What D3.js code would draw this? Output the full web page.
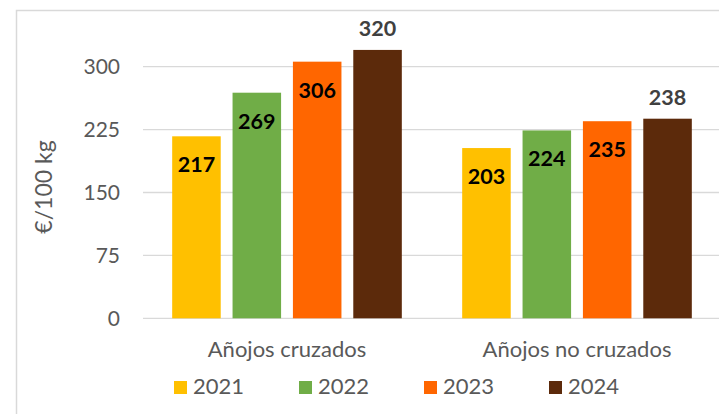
<!DOCTYPE html>
<html>
<head>
<meta charset="utf-8">
<script src="https://cdn.jsdelivr.net/npm/d3@7"></script>
<style>
  html, body { margin: 0; padding: 0; background: #fff; }
  svg { display: block; }
  text { font-family: Lato, "Open Sans", sans-serif; }
</style>
</head>
<body>
<svg id="chart" width="719" height="414"></svg>
<script>
const categories = ["Añojos cruzados", "Añojos no cruzados"];
const years = ["2021", "2022", "2023", "2024"];
const values2021 = [217, 203];
const values2022 = [269, 224];
const values2023 = [306, 235];
const values2024 = [320, 238];
const yTicks = [0, 75, 150, 225, 300];
const yTitle = "€/100 kg";

const seriesValues = [values2021, values2022, values2023, values2024];
const colors = ["#FFC000", "#70AD47", "#FF6600", "#5C2A0B"];
const labelOutside = [false, false, false, true];

const svg = d3.select("#chart");

// outer chart border (cropped on right/bottom)
svg.append("rect")
  .attr("x", 16.5).attr("y", 10.5)
  .attr("width", 800).attr("height", 500)
  .attr("fill", "none").attr("stroke", "#d9d9d9").attr("stroke-width", 1.5);

const y = d3.scaleLinear().domain([0, 300]).range([318.3, 66.7]);
const x0 = d3.scaleBand().domain(categories).range([142, 722]).paddingInner(0).paddingOuter(0);
const x1 = d3.scaleBand().domain(years).range([0, x0.bandwidth()]).paddingInner(0.196).paddingOuter(0.5);

// gridlines
const gAxis = svg.append("g");
gAxis.selectAll("line.grid").data(yTicks).join("line")
  .attr("class", "grid")
  .attr("x1", 143).attr("x2", 725)
  .attr("y1", d => y(d)).attr("y2", d => y(d))
  .attr("stroke", "#d9d9d9").attr("stroke-width", 1.3);

// y tick labels
gAxis.selectAll("text.tick").data(yTicks).join("text")
  .attr("class", "tick")
  .attr("x", 120).attr("y", d => y(d))
  .attr("dy", "0.36em")
  .attr("text-anchor", "end")
  .attr("font-size", 21).attr("fill", "#595959")
  .text(d => d);

// y title
svg.append("text")
  .attr("transform", "translate(52,187) rotate(-90)")
  .attr("text-anchor", "middle")
  .attr("font-size", 23).attr("fill", "#595959")
  .text(yTitle);

// bars
const data = [];
categories.forEach((c, ci) => {
  years.forEach((yr, si) => {
    data.push({ cat: c, year: yr, si: si, value: seriesValues[si][ci] });
  });
});

svg.append("g").selectAll("rect").data(data).join("rect")
  .attr("x", d => x0(d.cat) + x1(d.year))
  .attr("y", d => y(d.value))
  .attr("width", x1.bandwidth())
  .attr("height", d => y(0) - y(d.value))
  .attr("fill", d => colors[d.si]);

// data labels
svg.append("g").selectAll("text").data(data).join("text")
  .attr("x", d => x0(d.cat) + x1(d.year) + x1.bandwidth() / 2)
  .attr("y", d => labelOutside[d.si] ? y(d.value) - 14 : y(d.value) + 36)
  .attr("text-anchor", "middle")
  .attr("font-size", 21.5).attr("font-weight", "bold")
  .attr("fill", d => labelOutside[d.si] ? "#404040" : "#000000")
  .text(d => d.value);

// category labels
svg.append("g").selectAll("text").data(categories).join("text")
  .attr("x", d => x0(d) + x0.bandwidth() / 2)
  .attr("y", 356.5)
  .attr("text-anchor", "middle")
  .attr("font-size", 22).attr("fill", "#595959")
  .text(d => d);

// legend
const legendX = d3.scaleBand().domain(years).range([174, 674]);
const lg = svg.append("g").selectAll("g").data(years).join("g")
  .attr("transform", d => `translate(${legendX(d)},0)`);
lg.append("rect")
  .attr("x", 0).attr("y", 381)
  .attr("width", 13).attr("height", 13)
  .attr("fill", (d, i) => colors[i]);
lg.append("text")
  .attr("x", 19).attr("y", 393.5)
  .attr("font-size", 22).attr("fill", "#595959")
  .text(d => d);
</script>
</body>
</html>
